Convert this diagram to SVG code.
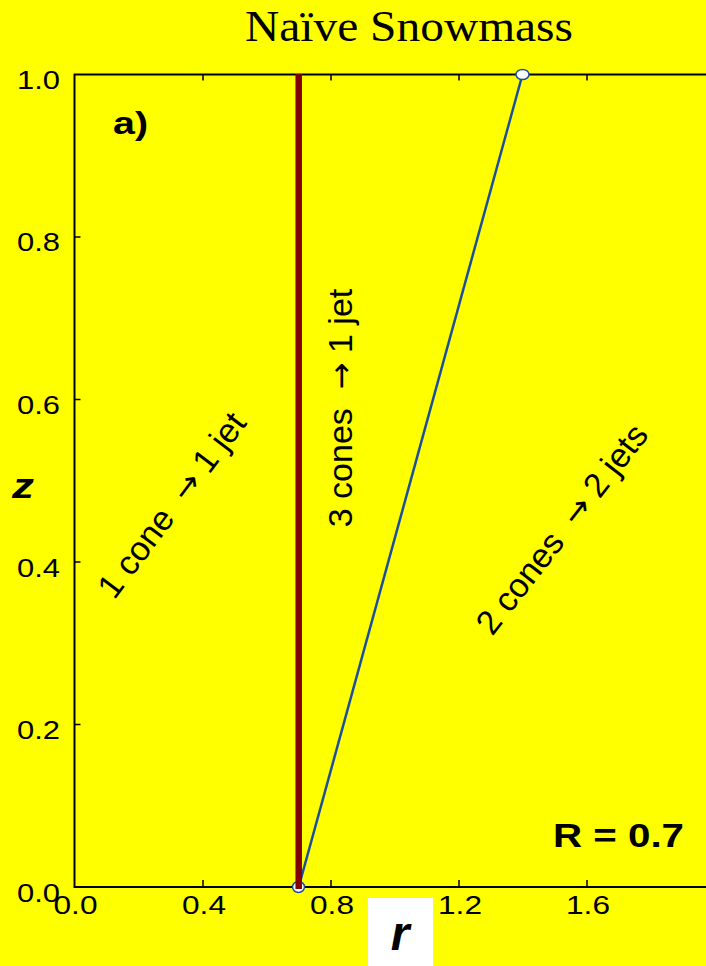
<svg xmlns="http://www.w3.org/2000/svg" width="706" height="966" viewBox="0 0 706 966">
<style>
.ax{stroke:#000;stroke-width:2;fill:none}
.tk{stroke:#000;stroke-width:1.5}
.num{font-family:"Liberation Sans",Arial,sans-serif;font-size:26px;fill:#000}
.yl{text-anchor:end}
.xl{text-anchor:middle}
.lab{font-family:"Liberation Sans",Arial,sans-serif;font-size:34px;fill:#000}
.arr{font-family:"DejaVu Sans",sans-serif;font-size:32px}
.b{font-family:"Liberation Sans",Arial,sans-serif;font-weight:bold;fill:#000}
.pt{fill:#fff;stroke:#1a4f9c;stroke-width:1.5}
</style>
<rect x="0" y="0" width="706" height="966" fill="#ffff00"/>
<text x="245" y="41" font-family="'Liberation Serif','Times New Roman',serif" font-size="45" textLength="328" lengthAdjust="spacingAndGlyphs">Naïve Snowmass</text>
<g id="axes">
<path class="ax" d="M706,74.5 H74.5 V887 H706"/>
<path class="tk" d="M203,887 v-7 M331,887 v-7 M459,887 v-7 M587,887 v-7 M203,74.5 v6 M331,74.5 v6 M459,74.5 v6 M587,74.5 v6 M74.5,237 h6 M74.5,399.5 h6 M74.5,562 h6 M74.5,724.5 h6"/>
<g class="num yl">
<text x="60" y="88.5" textLength="43" lengthAdjust="spacingAndGlyphs">1.0</text>
<text x="60" y="251" textLength="43" lengthAdjust="spacingAndGlyphs">0.8</text>
<text x="60" y="413.5" textLength="43" lengthAdjust="spacingAndGlyphs">0.6</text>
<text x="60" y="576.5" textLength="43" lengthAdjust="spacingAndGlyphs">0.4</text>
<text x="60" y="739" textLength="43" lengthAdjust="spacingAndGlyphs">0.2</text>
<text x="60" y="901.5" textLength="43" lengthAdjust="spacingAndGlyphs">0.0</text>
</g>
<g class="num xl">
<text x="75.5" y="914" textLength="44" lengthAdjust="spacingAndGlyphs">0.0</text>
<text x="204" y="914" textLength="44" lengthAdjust="spacingAndGlyphs">0.4</text>
<text x="332" y="914" textLength="44" lengthAdjust="spacingAndGlyphs">0.8</text>
<text x="460" y="914" textLength="44" lengthAdjust="spacingAndGlyphs">1.2</text>
<text x="588" y="914" textLength="44" lengthAdjust="spacingAndGlyphs">1.6</text>
</g>
<text class="b" x="12" y="498" font-size="35" font-style="italic" textLength="22" lengthAdjust="spacingAndGlyphs">z</text>
<rect x="368" y="898" width="65" height="68" fill="#fff"/>
<text class="b" x="400" y="950" font-size="48" font-style="italic" text-anchor="middle">r</text>
</g>
<g id="connectors">
<line id="edge-blue" x1="298.7" y1="887" x2="522.5" y2="74.5" stroke="#1a4f9c" stroke-width="2.5"/>
</g>
<g id="node-bottom"><ellipse class="pt" cx="298.5" cy="887" rx="6" ry="5.5"/></g>
<g id="node-top"><ellipse class="pt" cx="522.5" cy="74.5" rx="6.5" ry="5"/></g>
<g id="boundary"><line x1="298.7" y1="74" x2="298.7" y2="889" stroke="#800000" stroke-width="6.5"/></g>
<g id="labels">
<text class="b" x="113" y="134" font-size="31" textLength="35" lengthAdjust="spacingAndGlyphs">a)</text>
<text class="b" x="553" y="847" font-size="33" textLength="131" lengthAdjust="spacingAndGlyphs">R = 0.7</text>
<text class="lab" text-anchor="middle" transform="translate(181,512) rotate(-53)">1 cone &#160;<tspan class="arr">→</tspan> 1 jet</text>
<text class="lab" text-anchor="middle" transform="translate(352,408) rotate(-90)">3 cones &#160;<tspan class="arr">→</tspan> 1 jet</text>
<text class="lab" text-anchor="middle" transform="translate(571,536) rotate(-52)">2 cones &#160;<tspan class="arr">→</tspan> 2 jets</text>
</g>
</svg>
